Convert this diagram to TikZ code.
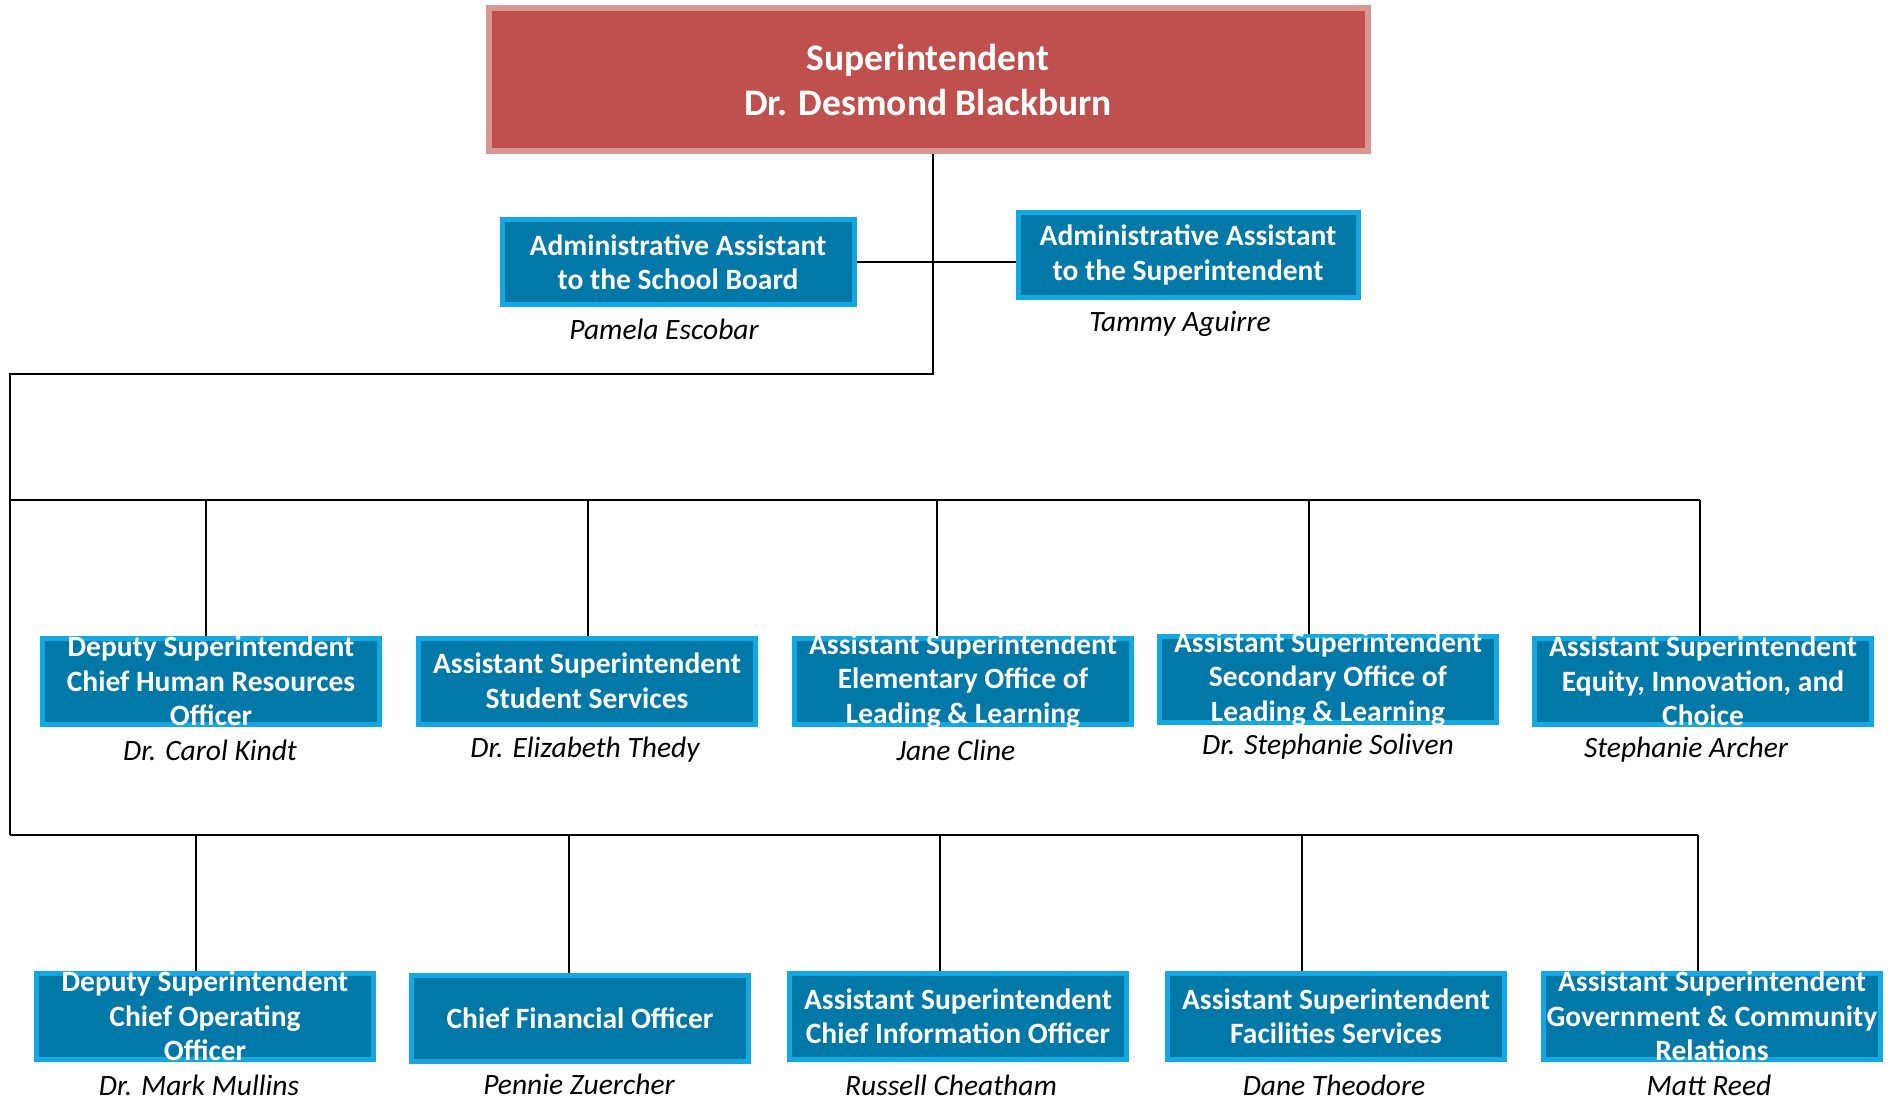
\documentclass[tikz,border=0pt]{standalone}
\usepackage{fontspec}
\setmainfont{Carlito}
\definecolor{suprd}{RGB}{192,80,77}
\definecolor{suppk}{RGB}{217,150,148}
\definecolor{postbl}{RGB}{0,120,168}
\definecolor{postcy}{RGB}{20,168,226}
\tikzset{
  wire/.style={black, line width=1.6pt},
  post/.style={draw=postcy, fill=postbl, line width=5pt, minimum width=337pt, minimum height=86pt, inner sep=0pt},
  posttext/.style={text=white, font=\fontsize{29.5}{34.5}\selectfont\bfseries, align=center},
  who/.style={font=\fontsize{29.5}{34}\selectfont\itshape}
}

\begin{document}
\begin{tikzpicture}[x=1pt,y=-1pt]
\useasboundingbox (0,0) rectangle (1890,1102);

% top
\node[draw=suppk, fill=suprd, line width=6pt, minimum width=879pt, minimum height=143pt] (sup) at (928,80) {};
\node[text=white, font=\fontsize{37.5}{45}\selectfont\bfseries, align=center] at (sup) {Superintendent\\Dr. Desmond Blackburn};

\node[post, minimum width=352pt, minimum height=85pt] (sb) at (678,262) {};
\node[posttext] at (sb) {Administrative Assistant\\to the School Board};
\node[who] at (664,329) {Pamela Escobar};

\node[post, minimum width=340pt, minimum height=85pt] (as) at (1188,255) {};
\node[posttext] at (as) {Administrative Assistant\\to the Superintendent};
\node[who] at (1180,324) {Tammy Aguirre};

% first row
\node[post] (hr) at (211,681) {};
\node[posttext] at (hr) {Deputy Superintendent\\Chief Human Resources\\Officer};
\node[who] at (210,750) {Dr. Carol Kindt};

\node[post] (ss) at (587,681) {};
\node[posttext] at (ss) {Assistant Superintendent\\Student Services};
\node[who] at (585,750) {Dr. Elizabeth Thedy};

\node[post] (el) at (963,681) {};
\node[posttext] at (el) {Assistant Superintendent\\Elementary Office of\\Leading \& Learning};
\node[who] at (956,750) {Jane Cline};

\node[post] (sec) at (1328,679) {};
\node[posttext] at (sec) {Assistant Superintendent\\Secondary Office of\\Leading \& Learning};
\node[who] at (1328,747) {Dr. Stephanie Soliven};

\node[post] (eq) at (1703,681) {};
\node[posttext] at (eq) {Assistant Superintendent\\Equity, Innovation, and\\Choice};
\node[who] at (1686,750) {Stephanie Archer};

% second row
\node[post] (coo) at (205,1016) {};
\node[posttext] at (coo) {Deputy Superintendent\\Chief Operating\\Officer};
\node[who] at (199,1085) {Dr. Mark Mullins};

\node[post] (cfo) at (580,1018) {};
\node[posttext] at (cfo) {Chief Financial Officer};
\node[who] at (579,1084) {Pennie Zuercher};

\node[post] (cio) at (958,1016) {};
\node[posttext] at (cio) {Assistant Superintendent\\Chief Information Officer};
\node[who] at (951,1085) {Russell Cheatham};

\node[post] (fac) at (1336,1016) {};
\node[posttext] at (fac) {Assistant Superintendent\\Facilities Services};
\node[who] at (1334,1085) {Dane Theodore};

\node[post] (gov) at (1712,1016) {};
\node[posttext] at (gov) {Assistant Superintendent\\Government \& Community\\Relations};
\node[who] at (1709,1085) {Matt Reed};

% lines
\coordinate (elbow) at (933,374);
\coordinate (corner) at (10,374);
\coordinate (busA) at (10,500);
\coordinate (busB) at (10,835);

\draw[wire] ([xshift=5pt]sup.south) -- (elbow) -- (corner) -- (busB);
\draw[wire] (sb.east) -- (sb.east -| as.west);

\draw[wire] (busA) -- ([xshift=-3pt]eq.north |- busA);
\foreach \n/\dx in {hr/-5,ss/1,el/-26,sec/-19,eq/-3}
  \draw[wire] ([xshift=\dx pt]\n.north) -- ([xshift=\dx pt]\n.north |- busA);

\draw[wire] (busB) -- ([xshift=-14pt]gov.north |- busB);
\foreach \n/\dx in {coo/-9,cfo/-11,cio/-18,fac/-34,gov/-14}
  \draw[wire] ([xshift=\dx pt]\n.north) -- ([xshift=\dx pt]\n.north |- busB);

\end{tikzpicture}
\end{document}
